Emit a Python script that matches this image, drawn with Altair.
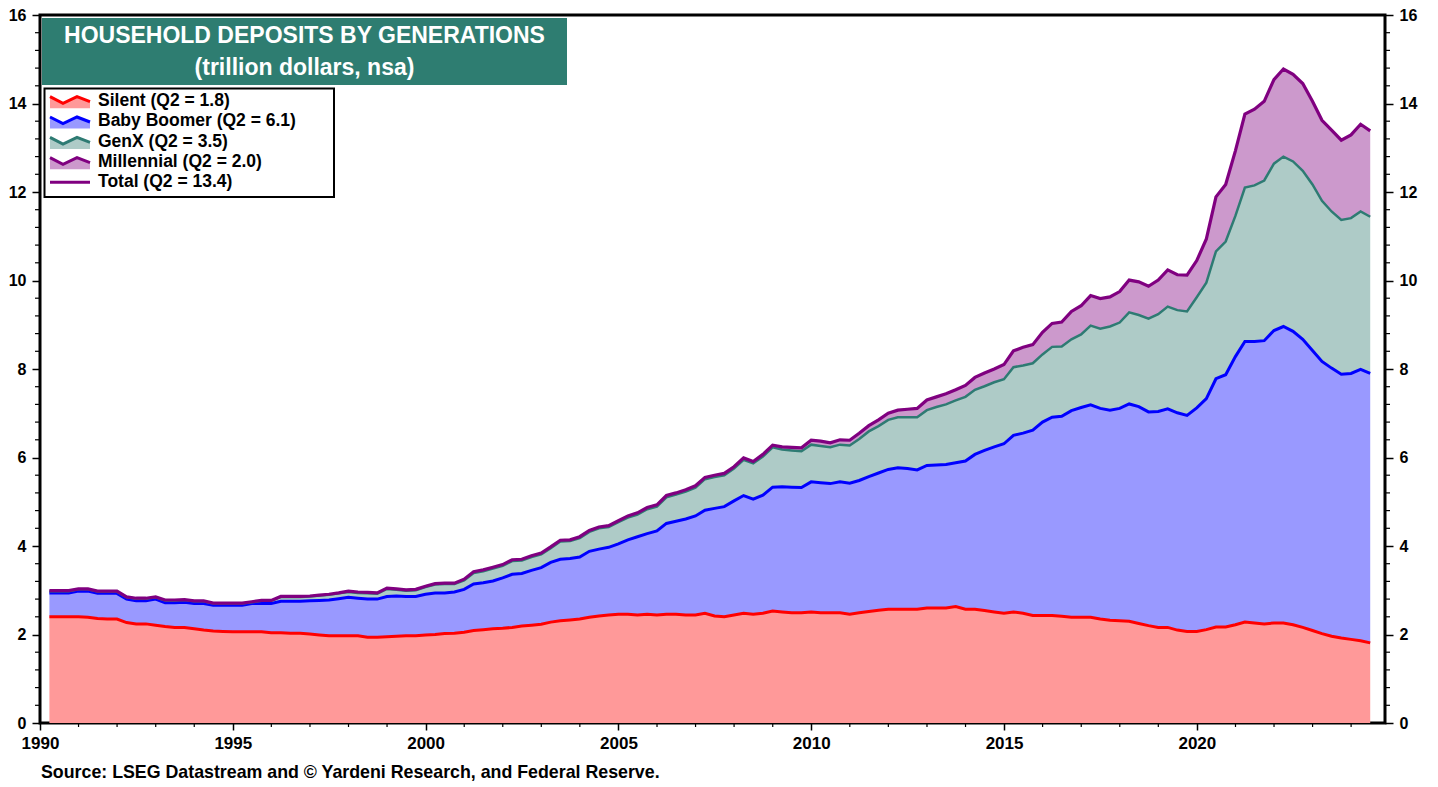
import altair as alt
import pandas as pd

# ---------------- data (trillion dollars, quarter-end, 1990Q1 .. 2024Q2) ----------------
quarter_ends = ["03-31", "06-30", "09-30", "12-31"]
dates = [f"{y}-{q}" for y in range(1990, 2025) for q in quarter_ends][:138]

# cumulative levels (top edge of each stacked band)
silent_top = [
    2.40, 2.40, 2.40, 2.40, 2.39, 2.36, 2.35, 2.35, 2.27, 2.24,
    2.24, 2.21, 2.18, 2.16, 2.16, 2.13, 2.10, 2.08, 2.07, 2.06,
    2.06, 2.06, 2.06, 2.04, 2.04, 2.03, 2.03, 2.01, 1.99, 1.97,
    1.97, 1.97, 1.97, 1.94, 1.94, 1.95, 1.96, 1.97, 1.97, 1.99,
    2.00, 2.02, 2.03, 2.05, 2.09, 2.11, 2.13, 2.14, 2.16, 2.19,
    2.21, 2.23, 2.28, 2.31, 2.33, 2.35, 2.39, 2.42, 2.44, 2.46,
    2.46, 2.44, 2.46, 2.44, 2.46, 2.46, 2.44, 2.44, 2.48, 2.42,
    2.40, 2.44, 2.48, 2.46, 2.48, 2.53, 2.51, 2.49, 2.49, 2.51,
    2.49, 2.49, 2.49, 2.46, 2.49, 2.52, 2.55, 2.57, 2.57, 2.57,
    2.57, 2.60, 2.60, 2.60, 2.63, 2.57, 2.57, 2.54, 2.51, 2.48,
    2.51, 2.48, 2.43, 2.43, 2.43, 2.41, 2.39, 2.39, 2.39, 2.35,
    2.32, 2.31, 2.30, 2.25, 2.20, 2.16, 2.16, 2.10, 2.07, 2.07,
    2.11, 2.17, 2.17, 2.22, 2.28, 2.26, 2.24, 2.26, 2.26, 2.22,
    2.16, 2.09, 2.02, 1.96, 1.92, 1.89, 1.86, 1.81,
]
boomer_top = [
    2.94, 2.94, 2.94, 2.98, 2.98, 2.93, 2.93, 2.93, 2.80, 2.76,
    2.76, 2.80, 2.72, 2.72, 2.73, 2.70, 2.70, 2.66, 2.66, 2.66,
    2.66, 2.70, 2.70, 2.70, 2.75, 2.75, 2.75, 2.76, 2.77, 2.78,
    2.81, 2.84, 2.82, 2.80, 2.80, 2.86, 2.87, 2.86, 2.86, 2.91,
    2.94, 2.94, 2.96, 3.02, 3.14, 3.17, 3.21, 3.28, 3.36, 3.38,
    3.45, 3.51, 3.63, 3.70, 3.72, 3.75, 3.88, 3.93, 3.97, 4.05,
    4.14, 4.21, 4.28, 4.34, 4.51, 4.56, 4.61, 4.68, 4.81, 4.85,
    4.89, 5.02, 5.14, 5.06, 5.15, 5.33, 5.34, 5.33, 5.32, 5.45,
    5.43, 5.41, 5.45, 5.42, 5.48, 5.57, 5.65, 5.73, 5.77, 5.75,
    5.72, 5.82, 5.83, 5.84, 5.88, 5.92, 6.07, 6.16, 6.24, 6.31,
    6.50, 6.55, 6.62, 6.80, 6.91, 6.93, 7.06, 7.13, 7.19, 7.11,
    7.07, 7.11, 7.21, 7.15, 7.03, 7.04, 7.10, 7.01, 6.95, 7.12,
    7.33, 7.78, 7.87, 8.28, 8.62, 8.62, 8.64, 8.87, 8.96, 8.85,
    8.67, 8.42, 8.17, 8.02, 7.88, 7.90, 7.99, 7.90,
]
genx_top = [
    2.98, 2.98, 2.98, 3.02, 3.02, 2.97, 2.97, 2.97, 2.84, 2.81,
    2.81, 2.84, 2.77, 2.77, 2.78, 2.75, 2.75, 2.70, 2.70, 2.70,
    2.70, 2.73, 2.76, 2.76, 2.85, 2.85, 2.85, 2.86, 2.88, 2.90,
    2.93, 2.96, 2.94, 2.93, 2.92, 3.03, 3.01, 2.99, 3.00, 3.07,
    3.13, 3.14, 3.14, 3.22, 3.39, 3.43, 3.49, 3.55, 3.66, 3.67,
    3.75, 3.81, 3.95, 4.10, 4.11, 4.18, 4.32, 4.40, 4.43, 4.54,
    4.64, 4.71, 4.83, 4.89, 5.10, 5.16, 5.23, 5.32, 5.51, 5.56,
    5.60, 5.75, 5.95, 5.87, 6.02, 6.23, 6.18, 6.16, 6.14, 6.29,
    6.26, 6.23, 6.29, 6.27, 6.42, 6.59, 6.71, 6.85, 6.91, 6.91,
    6.91, 7.07, 7.14, 7.20, 7.29, 7.37, 7.53, 7.61, 7.70, 7.77,
    8.04, 8.08, 8.13, 8.33, 8.50, 8.51, 8.67, 8.78, 8.98, 8.91,
    8.96, 9.05, 9.28, 9.22, 9.14, 9.24, 9.41, 9.33, 9.30, 9.62,
    9.95, 10.66, 10.88, 11.46, 12.10, 12.15, 12.26, 12.64, 12.80, 12.69,
    12.48, 12.17, 11.80, 11.56, 11.37, 11.41, 11.56, 11.44,
]
total = [
    2.99, 2.99, 2.99, 3.03, 3.03, 2.98, 2.98, 2.98, 2.85, 2.82,
    2.82, 2.85, 2.78, 2.78, 2.79, 2.76, 2.76, 2.71, 2.71, 2.71,
    2.71, 2.74, 2.77, 2.77, 2.86, 2.86, 2.86, 2.87, 2.89, 2.91,
    2.94, 2.98, 2.96, 2.95, 2.94, 3.05, 3.03, 3.01, 3.02, 3.09,
    3.15, 3.16, 3.16, 3.25, 3.42, 3.46, 3.52, 3.58, 3.69, 3.70,
    3.78, 3.84, 3.98, 4.13, 4.14, 4.21, 4.35, 4.43, 4.46, 4.57,
    4.68, 4.75, 4.87, 4.93, 5.14, 5.20, 5.27, 5.36, 5.55, 5.60,
    5.64, 5.79, 5.99, 5.91, 6.07, 6.28, 6.24, 6.23, 6.22, 6.39,
    6.37, 6.33, 6.40, 6.39, 6.55, 6.72, 6.85, 7.00, 7.07, 7.09,
    7.11, 7.30, 7.37, 7.44, 7.53, 7.63, 7.81, 7.91, 8.00, 8.10,
    8.41, 8.49, 8.55, 8.83, 9.03, 9.06, 9.30, 9.43, 9.66, 9.59,
    9.63, 9.75, 10.01, 9.97, 9.87, 10.01, 10.24, 10.13, 10.12, 10.45,
    10.94, 11.89, 12.17, 12.93, 13.76, 13.87, 14.05, 14.54, 14.78, 14.66,
    14.45, 14.05, 13.62, 13.40, 13.17, 13.29, 13.53, 13.38,
]
for arr in (silent_top, boomer_top, genx_top, total):
    assert len(arr) == len(dates)

legend_labels = [
    "Silent (Q2 = 1.8)",
    "Baby Boomer (Q2 = 6.1)",
    "GenX (Q2 = 3.5)",
    "Millennial (Q2 = 2.0)",
    "Total (Q2 = 13.4)",
]
line_colors = ["#FF0000", "#0000FF", "#2E7B73", "#800080", "#800080"]
fill_colors = ["#FF9999", "#9999FF", "#AECBC7", "#CC99CC"]
title_lines = ["HOUSEHOLD DEPOSITS BY GENERATIONS", "(trillion dollars, nsa)"]
source_note = "Source: LSEG Datastream and \u00a9 Yardeni Research, and Federal Reserve."

y_major = list(range(0, 17, 2))
y_minor = [round(i * 0.4, 1) for i in range(1, 40) if i % 5]
x_major_years = list(range(1990, 2025, 5))
x_minor_years = [y for y in range(1991, 2025) if y % 5]

# ---------------- layout ----------------
W, H = 1345, 708
FONT = "Liberation Sans"
TEAL = "#2E7D71"


def ms(s):
    return int(pd.Timestamp(s).value // 10**6)


df = pd.DataFrame({
    "date": dates,
    "silent_top": silent_top,
    "boomer_top": boomer_top,
    "genx_top": genx_top,
    "total": total,
})
one = pd.DataFrame({"k": [0]})

xscale = alt.Scale(domain=[ms("1990-01-01"), ms("2024-11-17")], nice=False)
yscale = alt.Scale(domain=[0, 16], nice=False, zero=True)

lab = dict(labelFont=FONT, labelFontWeight="bold", labelColor="black",
           tickColor="black", tickWidth=1.5, domain=False, grid=False, title=None)

x_axis = alt.Axis(orient="bottom", values=[ms(f"{y}-01-01") for y in x_major_years],
                  format="%Y", formatType="time", tickSize=7, labelFontSize=17, labelPadding=5,
                  labelFlush=False, labelOverlap=False, **lab)
y_left = alt.Axis(orient="left", values=y_major, tickSize=8, labelFontSize=16,
                  labelPadding=6, **lab)
y_right = alt.Axis(orient="right", values=y_major, tickSize=8, labelFontSize=16,
                   labelPadding=6, **lab)

base = alt.Chart(df)
X0 = alt.X("date:T", scale=xscale, axis=None)

layers = []
# stacked bands
layers.append(base.mark_area(color=fill_colors[0], opacity=1).encode(
    x=alt.X("date:T", scale=xscale, axis=x_axis),
    y=alt.Y("silent_top:Q", scale=yscale, axis=y_left)))
layers.append(base.mark_area(color=fill_colors[1], opacity=1).encode(
    x=X0, y=alt.Y("boomer_top:Q", scale=yscale, axis=None), y2="silent_top:Q"))
layers.append(base.mark_area(color=fill_colors[2], opacity=1).encode(
    x=X0, y=alt.Y("genx_top:Q", scale=yscale, axis=None), y2="boomer_top:Q"))
layers.append(base.mark_area(color=fill_colors[3], opacity=1).encode(
    x=X0, y=alt.Y("total:Q", scale=yscale, axis=None), y2="genx_top:Q"))
# edge lines
for field, col, sw in [("silent_top", line_colors[0], 3), ("boomer_top", line_colors[1], 3),
                       ("genx_top", line_colors[2], 2.5)]:
    layers.append(base.mark_line(color=col, strokeWidth=sw).encode(
        x=X0, y=alt.Y(f"{field}:Q", scale=yscale, axis=None)))
layers.append(base.mark_line(color=line_colors[4], strokeWidth=3.2).encode(
    x=X0, y=alt.Y("total:Q", scale=yscale, axis=y_right)))

# minor ticks
dfy = pd.DataFrame({"v": y_minor})
layers.append(alt.Chart(dfy).mark_rule(color="black", strokeWidth=1.2).encode(
    y=alt.Y("v:Q", scale=yscale, axis=None), x=alt.value(-5), x2=alt.value(0)))
layers.append(alt.Chart(dfy).mark_rule(color="black", strokeWidth=1.2).encode(
    y=alt.Y("v:Q", scale=yscale, axis=None), x=alt.value(W), x2=alt.value(W + 5)))
dfx = pd.DataFrame({"d": [f"{y}-01-01" for y in x_minor_years]})
layers.append(alt.Chart(dfx).mark_rule(color="black", strokeWidth=1.2).encode(
    x=alt.X("d:T", scale=xscale, axis=None), y=alt.value(H), y2=alt.value(H + 4)))

# title box
layers.append(alt.Chart(one).mark_rect(color=TEAL, opacity=1).encode(
    x=alt.value(2), x2=alt.value(527), y=alt.value(3), y2=alt.value(70)))
for txt, yy in zip(title_lines, [21, 53]):
    layers.append(alt.Chart(one).mark_text(
        text=txt, align="center", baseline="middle", font=FONT, fontSize=23,
        fontWeight="bold", color="white").encode(x=alt.value(264.5), y=alt.value(yy)))

# legend box
layers.append(alt.Chart(one).mark_rect(fill="white", stroke="black", strokeWidth=2).encode(
    x=alt.value(4.5), x2=alt.value(294), y=alt.value(73.5), y2=alt.value(182)))
ZIG = "M-1,-0.215L-0.35,0.115L0.35,-0.215L1,0.035"
ZIG_FILL = ZIG + "L1,0.365L-1,0.365Z"
rows = [86, 106.3, 126.7, 147, 167.3]
for i in range(4):
    layers.append(alt.Chart(one).mark_point(
        shape=ZIG_FILL, size=1600, filled=True, color=fill_colors[i], opacity=1,
        strokeWidth=0).encode(x=alt.value(30), y=alt.value(rows[i])))
    layers.append(alt.Chart(one).mark_point(
        shape=ZIG, size=1600, filled=False, color=line_colors[i], opacity=1,
        strokeWidth=3).encode(x=alt.value(30), y=alt.value(rows[i])))
layers.append(alt.Chart(one).mark_rule(color=line_colors[4], strokeWidth=3).encode(
    x=alt.value(10), x2=alt.value(50), y=alt.value(rows[4])))
for txt, yy in zip(legend_labels, rows):
    layers.append(alt.Chart(one).mark_text(
        text=txt, align="left", baseline="middle", font=FONT, fontSize=17.5,
        fontWeight="bold", color="black").encode(x=alt.value(58), y=alt.value(yy)))

# source note
layers.append(alt.Chart(one).mark_text(
    text=source_note, align="left", baseline="middle", font=FONT, fontSize=17.8,
    fontWeight="bold", color="black").encode(x=alt.value(1), y=alt.value(758)))

chart = alt.layer(*layers).properties(
    width=W, height=H,
    autosize=alt.AutoSizeParams(type="none"),
    padding={"left": 32, "top": 7, "right": 36, "bottom": 60},
).resolve_axis(x="independent", y="independent").configure_view(stroke="black", strokeWidth=3)

chart.save("out.html", embed_options={"renderer": "svg", "actions": False})
